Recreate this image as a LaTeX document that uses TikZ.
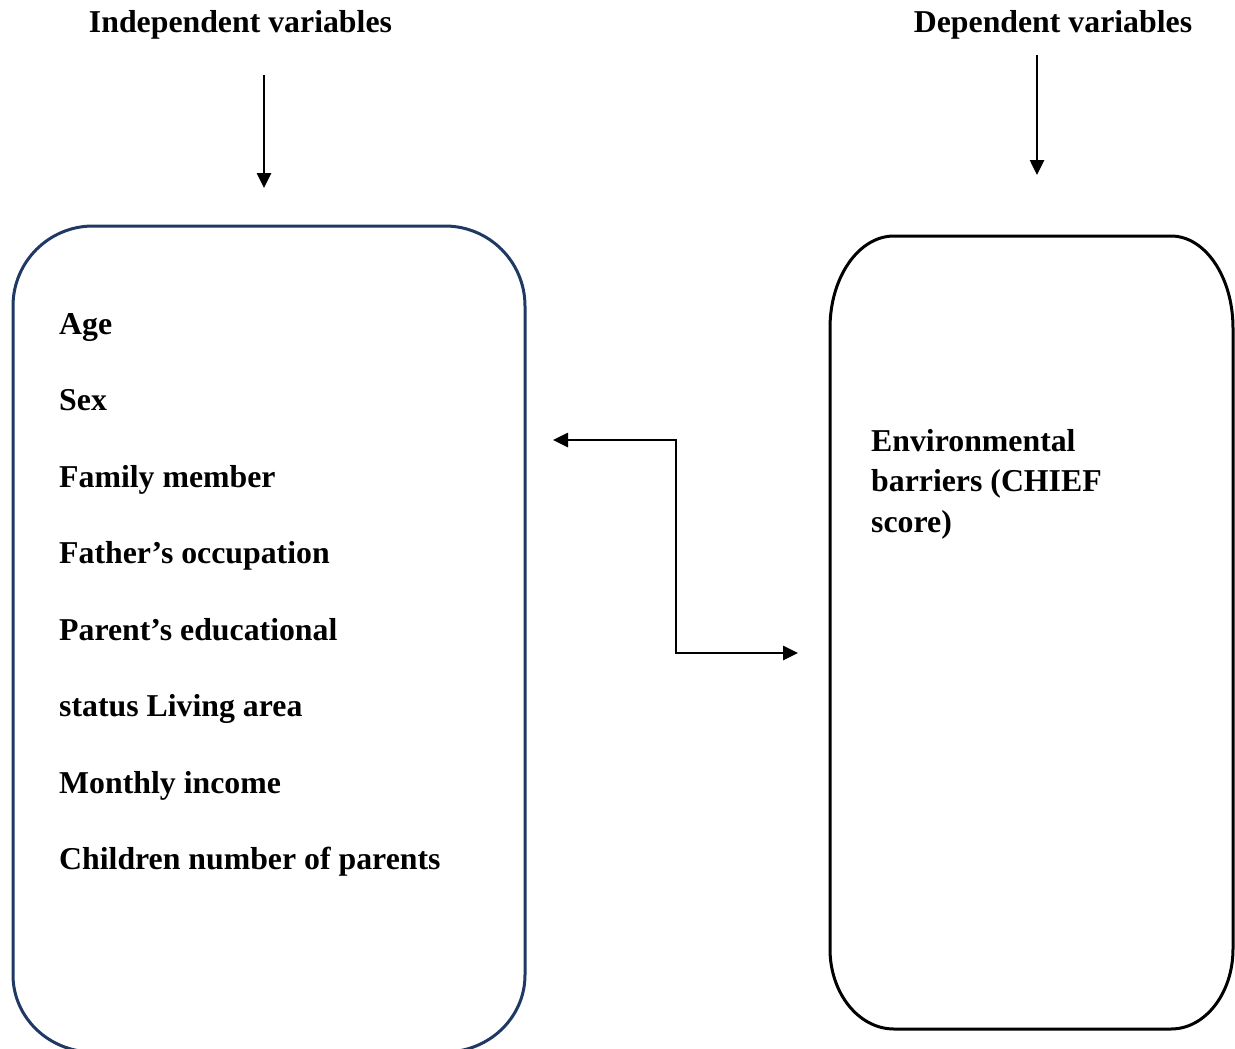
\documentclass[tikz,border=0pt]{standalone}
\usepackage{fontspec}
\setmainfont{Liberation Serif}
\usetikzlibrary{arrows.meta}
\definecolor{navy}{HTML}{1F3864}
\tikzset{
  lbl/.style={font=\bfseries\fontsize{31.8}{40.5}\selectfont, inner sep=0pt, anchor=base west},
  hdr/.style={font=\bfseries\fontsize{31.8}{40.5}\selectfont, inner sep=0pt, anchor=base},
  arr/.style={line width=2.6pt, -{Triangle[length=15pt,width=14pt]}},
  barr/.style={line width=2.6pt, {Triangle[length=15pt,width=14pt]}-{Triangle[length=15pt,width=14pt]}},
  boxline/.style={line width=3pt}
}
\begin{document}
\begin{tikzpicture}[x=1pt,y=-1pt]
\useasboundingbox (0,0) rectangle (1235,1049);
\clip (0,0) rectangle (1235,1049);
% headers
\node[hdr] (ih) at (240.5,33) {Independent variables};
\node[hdr] (dh) at (1053,33) {Dependent variables};
\coordinate (ia0) at (264,75);
\coordinate (ia1) at (264,188);
\coordinate (da0) at (1037,55);
\coordinate (da1) at (1037,175);
\draw[arr] (ia0) -- (ia1);
\draw[arr] (da0) -- (da1);
% left box
\draw[boxline, navy] (13,306) arc[start angle=180, end angle=270, radius=80] -- (445,226)
  arc[start angle=270, end angle=360, radius=80] -- (525,975)
  arc[start angle=0, end angle=90, x radius=80, y radius=77] -- (93,1052)
  arc[start angle=90, end angle=180, x radius=80, y radius=77] -- cycle;
% right box
\draw[boxline] (830,328) arc[start angle=180, end angle=270, x radius=64, y radius=92] -- (1171,236)
  arc[start angle=270, end angle=360, x radius=62, y radius=92] -- (1233,949)
  arc[start angle=0, end angle=90, x radius=62, y radius=80] -- (894,1029)
  arc[start angle=90, end angle=180, x radius=64, y radius=80] -- cycle;
% left texts
\node[lbl] (t1) at (59,334) {Age};
\node[lbl] (t2) at (59,410.5) {Sex};
\node[lbl] (t3) at (59,487) {Family member};
\node[lbl] (t4) at (59,563.5) {Father’s occupation};
\node[lbl] (t5) at (59,640) {Parent’s educational};
\node[lbl] (t6) at (59,716.5) {status Living area};
\node[lbl] (t7) at (59,793) {Monthly income};
\node[lbl] (t8) at (59,869.5) {Children number of parents};
% right texts
\node[lbl] (r1) at (871,451) {Environmental};
\node[lbl] (r2) at (871,491.5) {barriers (CHIEF};
\node[lbl] (r3) at (871,532) {score)};
% elbow connector
\coordinate (ca) at (553,440);
\coordinate (cb) at (798,653);
\draw[barr] (ca) -- (676,440) -- (676,653) -- (cb);
\end{tikzpicture}
\end{document}
